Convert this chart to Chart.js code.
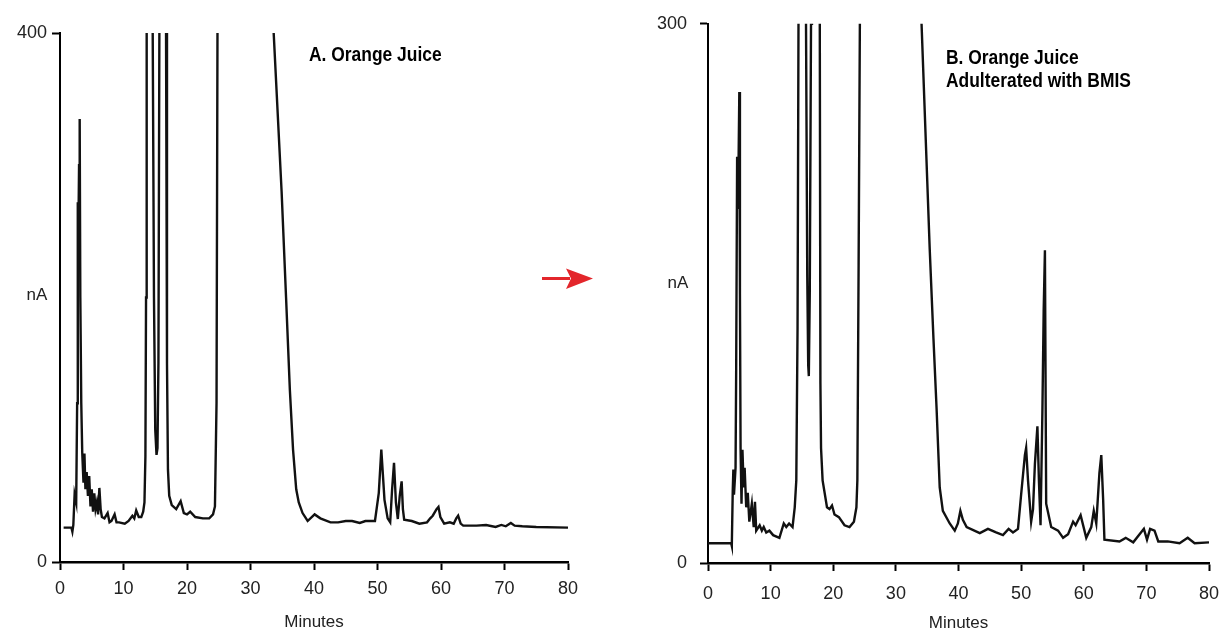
<!DOCTYPE html>
<html><head><meta charset="utf-8">
<script src="https://cdn.jsdelivr.net/npm/chart.js@4.4.1/dist/chart.umd.min.js"></script>
<style>
html,body{margin:0;padding:0;background:#fff;}
#wrap{position:relative;width:1226px;height:634px;overflow:hidden;background:#fff;}
.cv{position:absolute;top:0;height:634px;}
.lbl{position:absolute;font-family:"Liberation Sans Narrow","Liberation Sans",Arial,sans-serif;font-weight:bold;font-size:20.5px;color:#000;line-height:23.4px;white-space:nowrap;transform:scaleX(0.85);transform-origin:0 0;}
.yt{position:absolute;font-family:"Liberation Sans",Arial,sans-serif;font-size:17px;line-height:17px;color:#222;transform:translate(-50%,-50%);}
</style></head>
<body>
<div id="wrap">
  <div class="cv" style="left:0;width:613px"><canvas id="cA" width="613" height="634"></canvas></div>
  <div class="cv" style="left:613px;width:650px"><canvas id="cB" width="650" height="634"></canvas></div>
  <div class="lbl" id="tA" style="left:309px;top:41.5px"></div>
  <div class="lbl" id="tB" style="left:946px;top:44.5px"></div>
  <div class="yt" id="yA" style="left:37px;top:294px"></div>
  <div class="yt" id="yB" style="left:678px;top:282px"></div>
  <svg style="position:absolute;left:0;top:0" width="1226" height="634">
    <line x1="542" y1="278.5" x2="570" y2="278.5" stroke="#e3262b" stroke-width="3"/>
    <polygon points="566,268.5 593,278.5 566,289 571,278.5" fill="#e3262b"/>
  </svg>
</div>
<script>
// ---- data ----
const panelTitleA = ["A. Orange Juice"];
const panelTitleB = ["B. Orange Juice", "Adulterated with BMIS"];
const yAxisTitle = "nA";
const xAxisTitle = "Minutes";
const xTicks = [0, 10, 20, 30, 40, 50, 60, 70, 80];
const yTicksA = [0, 400];
const yTicksB = [0, 300];

// Panel A: retention time (min) and detector current (nA); off-scale peaks estimated above 400
const timeA = [0.57,1.8,1.95,2.1,2.3,2.55,2.7,2.8,2.9,3.0,3.1,3.2,3.35,3.5,3.7,3.85,4.0,4.2,4.4,4.6,4.8,5.0,5.2,5.4,5.6,5.8,6.0,6.2,6.4,6.6,7.0,7.5,7.8,8.1,8.6,8.9,9.3,10.2,10.8,11.4,11.7,12.0,12.4,12.8,13.1,13.3,13.45,13.55,13.65,13.8,14.4,14.6,14.8,15.0,15.2,15.35,15.5,15.65,15.8,16.5,16.7,16.85,17.0,17.2,17.6,18.3,19.0,19.5,20.0,20.5,21.3,22.5,23.5,24.1,24.4,24.65,24.8,25.0,29.5,33.3,33.65,34.9,35.6,36.2,36.7,37.2,37.6,38.2,39.0,40.1,41.0,42.6,43.8,45.0,46.0,47.2,48.1,49.6,50.2,50.6,51.1,51.6,52.0,52.3,52.6,52.9,53.2,53.5,53.8,54.0,54.2,55.4,56.6,57.8,58.3,58.7,59.3,59.6,59.9,60.5,61.4,62.0,62.4,62.7,63.1,63.5,65.6,67.1,68.6,69.5,70.2,71.0,71.6,72.8,75.0,80.0];
const currentA = [26,26,23,28,51,45,120,272,250,300,335,200,120,83,60,82,55,68,50,65,42,55,38,52,40,45,36,56,40,34,33,37,30,31,36,30,30,29,31,35,33,39,34,34,38,45,80,200,400,700,700,400,200,100,81,86,150,400,700,700,400,150,70,50,43,40,46,37,36,38,34,33,33,36,42,120,400,1000,1600,1000,400,280,200,130,85,55,45,37,31,36,33,30,30,31,31,29.5,31,31,52,85,47,33,30,55,75,45,32.5,50,61,40,32,31,29,30,33,35,40,41.7,34,29,30,29,33,35,29,27.5,27.5,28,26.5,28,27,29.5,27.5,27,26.5,26];

// Panel B: retention time (min) and detector current (nA); off-scale peaks estimated above 300
const timeB = [0,3.7,3.8,3.95,4.05,4.15,4.4,4.5,4.65,4.8,5.0,5.1,5.2,5.35,5.5,5.7,5.85,6.1,6.35,6.6,7.0,7.3,7.5,7.7,8.25,8.6,8.9,9.3,9.8,10.4,11.4,12.1,12.5,12.95,13.5,13.85,14.1,14.3,14.45,14.6,15.5,15.65,15.85,16.0,16.1,16.25,16.45,16.6,17.7,17.85,17.95,18.05,18.3,19.0,19.4,19.8,20.2,20.9,21.8,22.6,23.3,23.7,23.85,24.05,24.25,24.5,29.0,33.8,34.1,35.4,36.0,36.5,37.0,37.5,38.6,39.4,39.9,40.3,40.7,41.3,43.4,44.7,46.0,47.1,48.0,48.7,49.5,50.0,50.6,50.8,51.1,51.6,51.9,52.2,52.6,52.85,53.1,53.4,53.6,53.8,54.0,54.8,55.9,56.7,57.5,58.3,58.7,59.5,60.4,61.2,61.6,62.0,62.5,62.8,63.1,63.3,65.7,66.7,67.9,69.6,70.1,70.6,71.3,71.9,73.4,75.3,76.6,77.7,80.0];
const currentB = [11,11,9.5,40,52,38,53,108,226,197,262,150,64,33,63,42,53,31,39,23,33,20,34,18,21,18,20,17,18,15.5,14,22,20,22,20,31,46,131,300,600,600,300,160,110,104,150,300,600,600,300,100,64,46,31,30,32,27,25.5,21,20,23,31,46,166,300,1000,1500,1000,300,175,125,86,42,29,22,18,22,29,24,20,16.6,19,17,15.5,19,17,19,38,60,64,46,23,30,55,76,45,21,85,140,174,33,20,18,14,16,23,21,26.6,14,20,29,22,50,60,35,13,12,14,11.5,19,13,19,18,12,12,11,14,11,11.5];

// ---- drawing ----
const tickFont = {family: '"Liberation Sans", Arial, sans-serif', size: 18};
const titleFont = {family: '"Liberation Sans", Arial, sans-serif', size: 17};

function makeChart(id, times, values, yTicks, cfg) {
  const yMax = yTicks[yTicks.length - 1];
  return new Chart(document.getElementById(id), {
    type: 'line',
    data: {datasets: [{
      data: times.map((t, i) => ({x: t, y: values[i]})),
      borderColor: '#111', borderWidth: 2.4, pointRadius: 0, tension: 0, fill: false
    }]},
    options: {
      responsive: false, animation: false, devicePixelRatio: 1,
      layout: {padding: {left: 0, right: cfg.padRight, top: cfg.padTop, bottom: 0}},
      plugins: {legend: {display: false}, tooltip: {enabled: false}, title: {display: false}},
      scales: {
        x: {
          type: 'linear', min: xTicks[0], max: xTicks[xTicks.length - 1],
          afterFit: s => { s.height = cfg.xH; },
          afterBuildTicks: s => { s.ticks = xTicks.map(v => ({value: v})); },
          ticks: {color: '#222', font: tickFont, padding: cfg.xPad, maxRotation: 0, autoSkip: false},
          grid: {drawOnChartArea: false, drawTicks: true, tickLength: 8, tickWidth: 2, tickColor: '#000'},
          border: {display: true, color: '#000', width: 2.5},
          title: {display: true, text: xAxisTitle, color: '#222', font: titleFont, padding: {top: 0, bottom: cfg.titlePad}}
        },
        y: {
          type: 'linear', min: yTicks[0], max: yMax,
          afterFit: s => { s.width = cfg.yW; },
          afterBuildTicks: s => { s.ticks = yTicks.map(v => ({value: v})); },
          ticks: {color: '#222', font: tickFont, padding: cfg.yPad},
          grid: {drawOnChartArea: false, drawTicks: true, tickLength: 8, tickWidth: 2, tickColor: '#000'},
          border: {display: true, color: '#000', width: 2}
        }
      }
    }
  });
}

makeChart('cA', timeA, currentA, yTicksA, {yW: 60, padRight: 45, padTop: 33, xH: 72, xPad: 8, yPad: 5, titlePad: 1});
makeChart('cB', timeB, currentB, yTicksB, {yW: 95, padRight: 54, padTop: 14, xH: 71, xPad: 12, yPad: 13, titlePad: 0});

document.getElementById('tA').innerHTML = panelTitleA.join('<br>');
document.getElementById('tB').innerHTML = panelTitleB.join('<br>');
document.getElementById('yA').textContent = yAxisTitle;
document.getElementById('yB').textContent = yAxisTitle;
</script>
</body></html>
